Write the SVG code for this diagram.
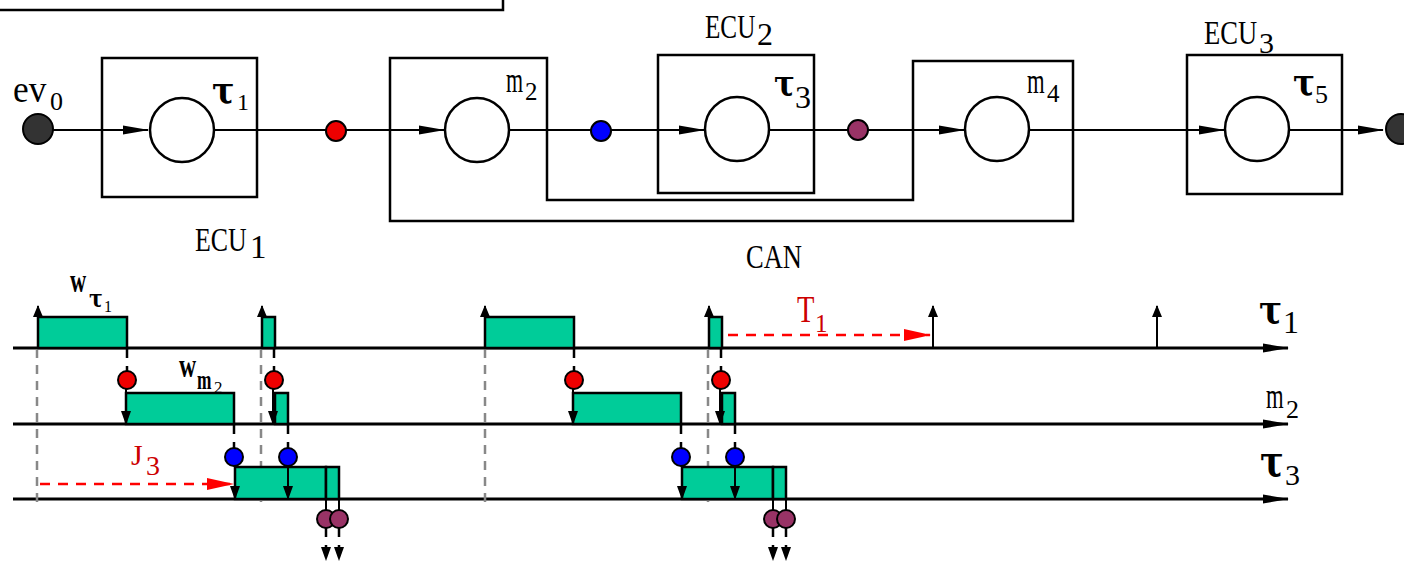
<svg xmlns="http://www.w3.org/2000/svg" xmlns:xlink="http://www.w3.org/1999/xlink" width="1404" height="562" viewBox="0 0 1404 562">
<style>
.t{font-family:"Liberation Serif",serif;fill:#000}
.tau{font-family:"DejaVu Serif","Liberation Serif",serif;font-weight:bold;fill:#000}
.b{font-weight:bold}
.red{fill:#cc0000}
.box{fill:none;stroke:#000;stroke-width:2.5}
.node{fill:#fff;stroke:#000;stroke-width:2.5}
.ln{stroke:#000;stroke-width:2;fill:none}
.ax{stroke:#000;stroke-width:3;fill:none}
.grey{stroke:#888;stroke-width:2.5;stroke-dasharray:9 7;fill:none}
.bd{stroke:#000;stroke-width:2.5;stroke-dasharray:9 8;fill:none}
.rd{stroke:#ff0000;stroke-width:2.5;stroke-dasharray:10 8;fill:none}
.bar{fill:#00cc99;stroke:#000;stroke-width:2.5}
.dr{fill:#ee0000;stroke:#000;stroke-width:2}
.dbl{fill:#0000ff;stroke:#000;stroke-width:2}
.dp{fill:#993366;stroke:#000;stroke-width:2}
.ev{fill:#333;stroke:#000;stroke-width:2}
</style>
<defs>
<marker id="ah" markerUnits="userSpaceOnUse" viewBox="0 0 26 10" markerWidth="26" markerHeight="10" refX="25" refY="5" orient="auto"><path d="M0,0.5 L26,5 L0,9.5 z" fill="#000"/></marker>
<marker id="sm" markerUnits="userSpaceOnUse" viewBox="0 0 12 10" markerWidth="12" markerHeight="10" refX="11" refY="5" orient="auto"><path d="M0,0 L12,5 L0,10 z" fill="#000"/></marker>
<marker id="dn" markerUnits="userSpaceOnUse" viewBox="0 0 14 10" markerWidth="14" markerHeight="10" refX="13" refY="5" orient="auto"><path d="M0,0 L14,5 L0,10 z" fill="#000"/></marker>
<marker id="rah" markerUnits="userSpaceOnUse" viewBox="0 0 27 12" markerWidth="27" markerHeight="12" refX="26" refY="6" orient="auto"><path d="M0,0 L27,6 L0,12 z" fill="#ff0000"/></marker>
</defs>

<!-- top partial box -->
<path class="box" d="M-2,10 H503 V-5"/>

<!-- containers -->
<g id="ECU1"><rect class="box" x="102" y="58" width="155" height="139"/>
<text class="t" transform="translate(195,251) scale(0.76,1)" font-size="34">ECU</text>
<text class="t" x="250" y="258" font-size="33">1</text></g>
<g id="CAN"><path class="box" d="M390,58 H547 V200 H913 V61 H1073 V221 H390 Z"/>
<text class="t" transform="translate(746,268) scale(0.78,1)" font-size="34">CAN</text></g>
<g id="ECU2"><rect class="box" x="658" y="55" width="156" height="138"/>
<text class="t" transform="translate(705,38) scale(0.74,1)" font-size="34">ECU</text>
<text class="t" x="757" y="45" font-size="32">2</text></g>
<g id="ECU3"><rect class="box" x="1187" y="55" width="155" height="139"/>
<text class="t" transform="translate(1204,44) scale(0.78,1)" font-size="34">ECU</text>
<text class="t" x="1259" y="53" font-size="30">3</text></g>

<!-- connectors -->
<g id="connectors">
<line class="ln" x1="53" y1="130" x2="148" y2="130" marker-end="url(#ah)"/>
<line class="ln" x1="214" y1="130" x2="444" y2="130" marker-end="url(#ah)"/>
<line class="ln" x1="509" y1="130" x2="704" y2="130" marker-end="url(#ah)"/>
<line class="ln" x1="769" y1="130" x2="964" y2="130" marker-end="url(#ah)"/>
<line class="ln" x1="1029" y1="130" x2="1224" y2="130" marker-end="url(#ah)"/>
<line class="ln" x1="1289" y1="130" x2="1383" y2="130" marker-end="url(#ah)"/>
<circle class="dr" cx="336" cy="131" r="10"/>
<circle class="dbl" cx="601" cy="131" r="10"/>
<circle class="dp" cx="858" cy="130" r="10"/>
</g>

<g id="ev0"><circle class="ev" cx="38" cy="129" r="15"/>
<text class="t" transform="translate(13,102) scale(0.93,1)" font-size="38">ev</text>
<text class="t" x="50" y="110" font-size="26">0</text></g>
<g id="ev_out"><circle class="ev" cx="1401" cy="129" r="15"/></g>

<g id="tau1"><circle class="node" cx="182" cy="130" r="32"/>
<text class="tau" transform="translate(212,103) scale(0.88,1)" font-size="38">τ</text>
<text class="t" x="237" y="110" font-size="24">1</text></g>
<g id="m2"><circle class="node" cx="477" cy="130" r="32"/>
<text class="t" transform="translate(506,92) scale(0.61,1)" font-size="36">m</text>
<text class="t" x="525" y="100" font-size="25">2</text></g>
<g id="tau3"><circle class="node" cx="737" cy="129" r="32"/>
<text class="tau" transform="translate(774,96) scale(0.86,1)" font-size="36">τ</text>
<text class="t" x="795" y="108" font-size="32">3</text></g>
<g id="m4"><circle class="node" cx="997" cy="129" r="32"/>
<text class="t" transform="translate(1027,93) scale(0.63,1)" font-size="36">m</text>
<text class="t" x="1047" y="102" font-size="25">4</text></g>
<g id="tau5"><circle class="node" cx="1257" cy="129" r="32"/>
<text class="tau" transform="translate(1293,95) scale(0.86,1)" font-size="38">τ</text>
<text class="t" x="1315" y="103" font-size="26">5</text></g>

<!-- timeline -->
<g id="axes">
<line class="ax" x1="13" y1="348" x2="1288" y2="348" marker-end="url(#ah)"/>
<line class="ax" x1="13" y1="424" x2="1288" y2="424" marker-end="url(#ah)"/>
<line class="ax" x1="13" y1="499" x2="1288" y2="499" marker-end="url(#ah)"/>
<text class="tau" transform="translate(1259,323) scale(0.86,1)" font-size="40">τ</text>
<text class="t" x="1283" y="333" font-size="32">1</text>
<text class="t" transform="translate(1266,408) scale(0.63,1)" font-size="36">m</text>
<text class="t" x="1286" y="418" font-size="26">2</text>
<text class="tau" transform="translate(1260,476) scale(0.84,1)" font-size="42">τ</text>
<text class="t" x="1285" y="485" font-size="30">3</text>
</g>

<g id="grid">
<line class="grey" x1="37" y1="349" x2="37" y2="508"/>
<line class="grey" x1="261" y1="349" x2="261" y2="508"/>
<line class="grey" x1="485" y1="349" x2="485" y2="508"/>
<line class="grey" x1="708" y1="349" x2="708" y2="508"/>
</g>

<g id="period1">
<rect class="bar" x="38" y="317" width="89" height="31"/>
<line class="ln" x1="38" y1="348" x2="38" y2="306" marker-end="url(#sm)"/>
<line class="bd" x1="127" y1="349" x2="127" y2="371"/>
<rect class="bar" x="126" y="393" width="108" height="31"/>
<line class="ln" x1="126" y1="389" x2="126" y2="424" marker-end="url(#dn)"/>
<circle class="dr" cx="127" cy="380" r="9"/>
<line class="bd" x1="234" y1="425" x2="234" y2="448"/>
<rect class="bar" x="235" y="467" width="91" height="32"/>
<rect class="bar" x="326" y="467" width="13" height="32"/>
<line class="ln" x1="235" y1="466" x2="235" y2="499" marker-end="url(#dn)"/>
<circle class="dbl" cx="234" cy="457" r="9"/>
<rect class="bar" x="262" y="317" width="13" height="31"/>
<line class="ln" x1="262" y1="348" x2="262" y2="306" marker-end="url(#sm)"/>
<line class="bd" x1="274" y1="349" x2="274" y2="371"/>
<rect class="bar" x="275" y="393" width="13" height="31"/>
<line class="ln" x1="273" y1="389" x2="273" y2="424" marker-end="url(#dn)"/>
<circle class="dr" cx="274" cy="380" r="9"/>
<line class="bd" x1="288" y1="425" x2="288" y2="448"/>
<line class="ln" x1="288" y1="466" x2="288" y2="499" marker-end="url(#dn)"/>
<circle class="dbl" cx="288" cy="457" r="9"/>
<line class="ln" x1="326" y1="500" x2="326" y2="510"/>
<line class="ln" x1="339" y1="500" x2="339" y2="510"/>
<line class="bd" x1="326" y1="528" x2="326" y2="560" marker-end="url(#dn)"/>
<line class="bd" x1="339" y1="528" x2="339" y2="560" marker-end="url(#dn)"/>
<circle class="dp" cx="326" cy="519" r="9"/>
<circle class="dp" cx="339" cy="519" r="9"/>
</g>
<use id="period2" xlink:href="#period1" href="#period1" transform="translate(447,0)"/>

<g id="releases">
<line class="ln" x1="933" y1="348" x2="933" y2="306" marker-end="url(#sm)"/>
<line class="ln" x1="1157" y1="348" x2="1157" y2="306" marker-end="url(#sm)"/>
</g>

<g id="labels">
<text class="t b" transform="translate(70,292) scale(0.68,1)" font-size="33">w</text>
<text class="tau" transform="translate(89,307) scale(0.85,1)" font-size="24">τ</text>
<text class="t" x="104" y="312" font-size="16">1</text>
<text class="t b" transform="translate(179,377) scale(0.72,1)" font-size="33">w</text>
<text class="t b" transform="translate(197,389) scale(0.62,1)" font-size="28">m</text>
<text class="t" x="214" y="393" font-size="17">2</text>
</g>

<g id="J3">
<line class="rd" x1="40" y1="484" x2="233" y2="484" marker-end="url(#rah)"/>
<text class="t red" x="131" y="465" font-size="30">J</text>
<text class="t red" x="146" y="475" font-size="28">3</text>
</g>
<g id="T1">
<line class="rd" x1="728" y1="335" x2="930" y2="335" marker-end="url(#rah)"/>
<text class="t red" transform="translate(797,322) scale(0.75,1)" font-size="38">T</text>
<text class="t red" x="815" y="332" font-size="25">1</text>
</g>
</svg>
